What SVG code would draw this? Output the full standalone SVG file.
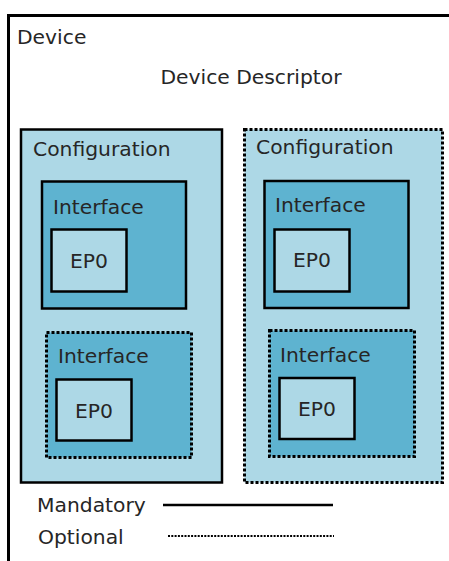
<svg xmlns="http://www.w3.org/2000/svg" width="449" height="561" viewBox="0 0 449 561">
  <style>
    text { font-family: "DejaVu Sans", sans-serif; font-size: 20.3px; fill: #262626; }
    .cfg { fill: #add8e6; stroke: #000; stroke-width: 2.5; }
    .ifc { fill: #5eb3d0; stroke: #000; stroke-width: 2.5; }
    .ep { fill: #add8e6; stroke: #000; stroke-width: 2.5; }
    .opt { stroke-width: 3; stroke-dasharray: 3 2; }
    .mid { text-anchor: middle; }
  </style>
  <rect width="449" height="561" fill="#fff"/>

  <!-- Device: outer frame, open at the right and bottom -->
  <g id="device">
    <path d="M8.5,570 V15.5 H460" fill="none" stroke="#000" stroke-width="3"/>
    <text x="17" y="44">Device</text>
    <text x="251" y="84" class="mid">Device Descriptor</text>
  </g>

  <!-- Configuration 1 (mandatory) -->
  <g id="config1">
    <rect class="cfg" x="21" y="129.5" width="201" height="353"/>
    <text x="33" y="156">Configuration</text>
  </g>
  <g id="config1-interface1">
    <rect class="ifc" x="42" y="181.5" width="144" height="127"/>
    <text x="53" y="214">Interface</text>
  </g>
  <g id="config1-interface1-ep0">
    <rect class="ep" x="51.5" y="229.5" width="75" height="62"/>
    <text x="89" y="268" class="mid">EP0</text>
  </g>
  <g id="config1-interface2">
    <rect class="ifc opt" x="46.5" y="332.5" width="145" height="125"/>
    <text x="58" y="363">Interface</text>
  </g>
  <g id="config1-interface2-ep0">
    <rect class="ep" x="56.5" y="379.5" width="75" height="61"/>
    <text x="94" y="418" class="mid">EP0</text>
  </g>

  <!-- Configuration 2 (optional) -->
  <g id="config2">
    <rect class="cfg opt" x="244.5" y="129.5" width="198" height="353"/>
    <text x="256" y="154">Configuration</text>
  </g>
  <g id="config2-interface1">
    <rect class="ifc" x="264.5" y="181" width="144" height="127"/>
    <text x="275" y="212">Interface</text>
  </g>
  <g id="config2-interface1-ep0">
    <rect class="ep" x="274.5" y="229.5" width="75" height="62"/>
    <text x="312" y="267" class="mid">EP0</text>
  </g>
  <g id="config2-interface2">
    <rect class="ifc opt" x="269.5" y="330.5" width="145" height="126"/>
    <text x="280" y="362">Interface</text>
  </g>
  <g id="config2-interface2-ep0">
    <rect class="ep" x="279.5" y="378" width="75" height="61"/>
    <text x="317" y="416" class="mid">EP0</text>
  </g>

  <!-- Legend -->
  <g id="legend">
    <text x="37" y="512">Mandatory</text>
    <line x1="163" y1="505" x2="333" y2="505" stroke="#000" stroke-width="2.5"/>
    <text x="38" y="544">Optional</text>
    <line x1="168" y1="536" x2="334" y2="536" stroke="#000" stroke-width="2.2" stroke-dasharray="2 1.3"/>
  </g>
</svg>
